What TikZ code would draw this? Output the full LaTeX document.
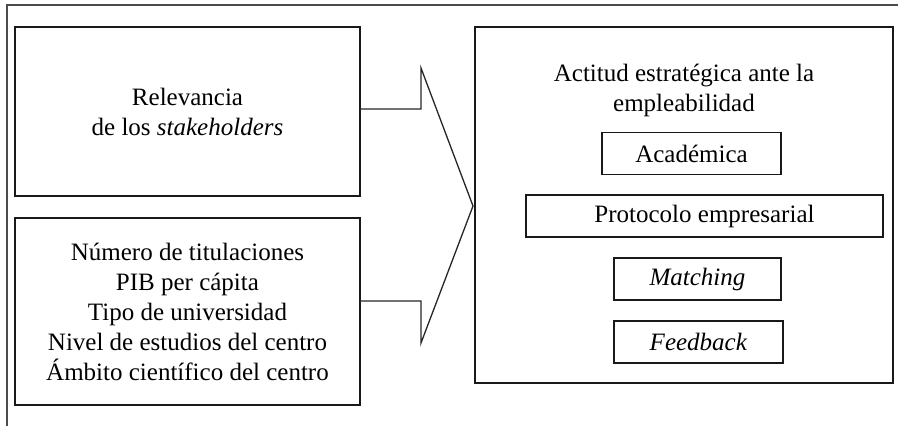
\documentclass[tikz,border=0pt]{standalone}
\usepackage{fontspec}
\setmainfont{Liberation Serif}
\begin{document}
\begin{tikzpicture}[x=1pt,y=-1pt,
  txt/.style={align=center,inner sep=0pt,font=\fontsize{25}{30}\selectfont},
  box/.style={txt,draw=black!90,line width=1.7pt},
  tag/.style={box,minimum height=42pt},
  thin/.style={draw=black!85,line width=1.3pt}]
\def\bigarrow{(360,109) -- (421,109) -- (421,68) -- (473,206) -- (421,343) -- (421,301) -- (360,301)}
\useasboundingbox (0,0) rectangle (898,426);

% outer frame, open at the right and at the bottom
\draw[thin,black!70,line width=1.1pt] (898,5) -- (7,5) -- (7,426);

\node[box,minimum width=345pt,minimum height=169pt] (rel) at (187.5,111.5) {Relevancia\\de los \textit{stakeholders}};
\node[box,minimum width=345pt,minimum height=187pt] (ctrl) at (187.5,311.5)
  {Número de titulaciones\\PIB per cápita\\Tipo de universidad\\Nivel de estudios del centro\\Ámbito científico del centro};

\draw[thin] \bigarrow;

\node[box,minimum width=418pt,minimum height=356pt] (act) at (684,205) {};
\node[txt] (title) at (684,90) {Actitud estratégica ante la\\empleabilidad};
\node[tag,minimum width=179pt] (acad) at (691.5,153.5) {Académica};
\node[tag,minimum width=357pt] (prot) at (704.5,216) {Protocolo empresarial};
\node[tag,minimum width=167pt] (match) at (697.5,279) {\textit{Matching}};
\node[tag,minimum width=169pt] (feed) at (698.5,342) {\textit{Feedback}};

\end{tikzpicture}
\end{document}
